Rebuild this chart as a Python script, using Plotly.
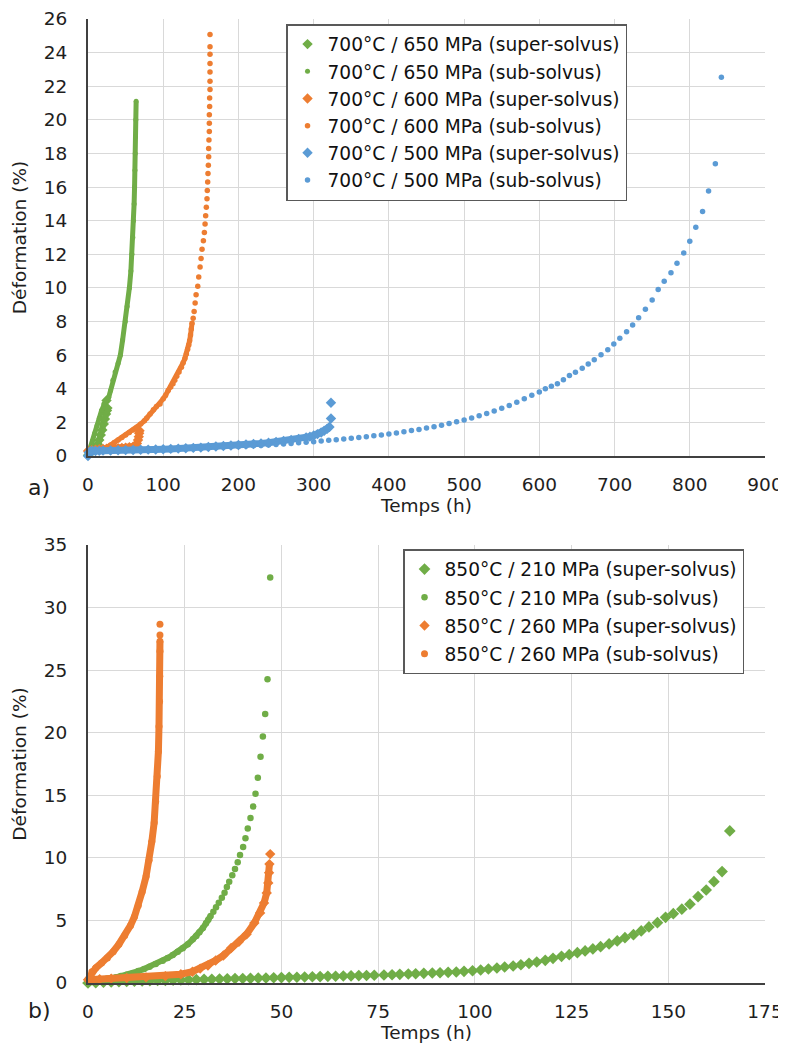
import plotly.graph_objects as go

# ---------------- DATA (time h, strain %) ----------------
# Panel a) 700 °C
s650_super = [(0,0.05),(3,0.2),(6,0.3),(9,0.4),(11,0.5),(13,0.7),(15,0.95),(17,1.25),(19,1.55),
              (21,1.9),(22.5,2.2),(24,2.5),(25.2,2.7),(25.8,2.85),(24.6,3.3)]
s650_sub = [(0,0.05),(3,0.45),(6,0.9),(9,1.35),(12,1.8),(15,2.25),(18,2.7),(21,3.1),(24,3.3),(27.6,3.5),
            (30,3.9),(33,4.5),(36,5.0),(40,5.5),(43,6.0),(46,6.9),(49.6,8.0),(52,8.9),(55,10.0),(57,11.0),
            (58.4,12.0),(59.6,13.0),(60.5,14.0),(61.3,15.0),(61.9,16.0),(62.4,17.0),(62.8,18.0),(63.2,19.0),
            (63.6,20.0),(64.0,21.1)]
s600_super = [(0,0.3),(5,0.35),(10,0.38),(15,0.4),(20,0.42),(25,0.44),(30,0.45),(35,0.46),(40,0.47),
              (45,0.48),(50,0.5),(55,0.52),(60,0.55),(63,0.6),(65,0.75),(66.5,0.95),(67.5,1.15),(68,1.35),(68.5,1.5)]
s600_sub = [(0,0.2),(5,0.3),(10,0.35),(15,0.4),(20,0.45),(25,0.52),(30,0.65),(35,0.8),(40,0.95),(45,1.1),
            (50,1.25),(55,1.4),(60,1.55),(65,1.7),(70,1.9),(75,2.1),(78,2.25),(82.5,2.5),(87,2.75),(91,2.95),
            (95.7,3.1),(100,3.4),(103,3.6),(106.6,3.9),(110,4.1),(113,4.3),(115.4,4.5),(118,4.75),(121,5.0),
            (124.2,5.28),(126.5,5.55),(128.8,5.8),(130.8,6.07),(132.5,6.35),(134,6.6),(135.1,6.86),(136.3,7.2),
            (137.3,7.55),(138.3,7.9),
            (139.8,8.2),(141.1,8.6),(142.4,9.1),(143.7,9.6),(145.9,10.1),(147.2,10.65),(149.0,11.25),
            (150.3,11.75),(151.6,12.3),(153.4,12.8),(154.7,13.3),(155.6,13.8),(156.4,14.3),(157.3,14.8),
            (158.2,15.3),(158.6,15.8),(159.1,16.3),(159.5,16.8),(160.0,17.3),(160.4,17.8),(160.4,18.3),
            (160.8,18.8),(161.3,19.3),(161.3,19.8),(161.3,20.3),(161.7,20.8),(161.7,21.3),(162.2,21.8),
            (162.2,22.3),(162.2,22.85),(162.2,23.35),(162.2,23.9),(162.2,24.35),(162.2,25.08)]
s500_super = [(0,0.0),(1,0.2),(3,0.28),(6,0.3),(10,0.3),(15,0.31),(20,0.32),(30,0.33),(40,0.34),(50,0.35),
              (60,0.36),(70,0.37),(80,0.38),(90,0.39),(100,0.4),(110,0.42),(120,0.44),(130,0.46),(140,0.48),
              (150,0.5),(160,0.53),(170,0.56),(180,0.59),(190,0.62),(200,0.65),(210,0.68),(220,0.71),
              (230,0.75),(240,0.79),(250,0.84),(260,0.89),(270,0.95),(280,1.02),(290,1.1),(295,1.15),
              (300,1.22),(305,1.3),(310,1.4),(314,1.5),(318,1.62),(321,1.72),(323,2.23),(323,3.17)]
s500_sub = [(0,0.1),(5,0.25),(12,0.3),(20,0.32),(30,0.33),(40,0.34),(50,0.35),(60,0.36),(70,0.37),(80,0.38),
            (90,0.39),(100,0.4),(110,0.41),(120,0.42),(130,0.43),(140,0.45),(150,0.47),(160,0.49),(170,0.51),
            (180,0.53),(190,0.55),(200,0.57),(210,0.59),(220,0.61),(230,0.63),(240,0.66),(250,0.69),(260,0.72),
            (270,0.75),(280,0.78),(290,0.81),(300,0.85),(310,0.89),(320,0.93),(330,0.97),(340,1.01),(350,1.05),
            (360,1.1),(370,1.15),(380,1.2),(390,1.25),(400,1.31),(410,1.37),(420,1.44),(430,1.51),(440,1.58),
            (450,1.66),(460,1.74),(470,1.83),(480,1.93),(490,2.03),(500,2.14),(510,2.26),(520,2.39),(530,2.53),
            (540,2.68),(550,2.84),(560,3.01),(570,3.2),(580,3.4),(590,3.62),(600,3.8),(608,4.0),(616,4.15),
            (624,4.3),(632,4.53),(640,4.79),(648,4.98),(657,5.22),(665,5.48),(673,5.73),(682,6.03),(691,6.32),
            (699,6.66),(707,7.01),(716,7.39),(724,7.8),(732,8.23),(741,8.73),(750,9.28),(758,9.91),(766,10.4),
            (775,10.9),(783,11.47),(792,12.08),(800,12.77),(808,13.61),(817,14.54),(825,15.76),(834,17.39),
            (842,22.54)]

# Panel b) 850 °C
s210_super = [(0,0.0),(2,0.03),(4,0.06),(6,0.08),(8,0.1),(10,0.12),(12,0.14),(14,0.16),(16,0.18),(18,0.2),
              (20,0.21),(22,0.23),(24,0.24),(26,0.26),(28,0.27),(30,0.29),(32,0.3),(34,0.32),(36,0.33),
              (38,0.35),(40,0.36),(42,0.37),(44,0.39),(46,0.4),(48,0.42),(50,0.43),(52,0.45),(54,0.46),
              (56,0.48),(58,0.5),(60,0.51),(62,0.53),(64,0.54),(66,0.56),(68,0.57),(70,0.59),(72,0.6),
              (74,0.62),(76.5,0.64),(78.6,0.66),(80.6,0.69),(82.8,0.72),(84.7,0.74),(86.8,0.77),(89.0,0.8),
              (91.0,0.82),(93.1,0.85),(95.2,0.88),(97.2,0.93),(99.4,0.98),(101.5,1.04),(103.5,1.12),
              (105.7,1.2),(107.7,1.28),(109.9,1.36),(111.9,1.46),(114.0,1.57),(116.0,1.68),(118.2,1.81),
              (120.2,1.97),(122.4,2.13),(124.4,2.26),(126.5,2.42),(128.5,2.56),(130.5,2.72),(132.5,2.9),
              (134.7,3.12),(136.8,3.36),(138.8,3.62),(141.0,3.86),(143.0,4.16),(145.0,4.48),(147.2,4.82),
              (149.3,5.25),(151.3,5.54),(153.5,5.9),(155.6,6.3),(157.7,6.9),(159.8,7.43),(161.8,8.1),
              (163.9,8.9),(165.9,12.15)]
s210_sub = [(0,0.0),(1,0.08),(2,0.15),(3,0.24),(4,0.3),(5,0.35),(6,0.4),(7.3,0.46),(8.5,0.55),(10,0.65),
            (11.6,0.78),(13,0.95),(14.5,1.12),(15.9,1.3),(17.5,1.52),(19.3,1.78),(20.6,2.0),(21.9,2.24),
            (23.2,2.5),(24.5,2.77),(25.8,3.1),(27.1,3.49),(28,3.75),(28.8,4.05),(29.7,4.4),(30.5,4.77),
            (31.1,5.05),(31.7,5.36),(32.4,5.7),(33.1,6.05),(33.8,6.42),(34.6,6.82),(35.3,7.22),(35.9,7.67),
            (36.5,8.1),(37.3,8.6),(38.0,9.11),(38.7,9.64),(39.3,10.23),(40.1,10.87),(40.7,11.56),
            (41.3,12.34),(42.0,13.19),(42.7,14.1),(43.3,15.13),(43.9,16.4),(44.6,18.07),(45.2,19.7),
            (45.8,21.5),(46.4,24.27),(47.1,32.4)]
s260_super = [(0,0.25),(3,0.3),(6,0.35),(10,0.4),(15,0.45),(20,0.55),(24,0.7),(27,0.9),(29,1.15),(31,1.4),
              (33,1.8),(35,2.2),(37,2.8),(39,3.3),(41,3.9),(43,4.8),(44.5,5.6),(45.5,6.4),(46.2,7.2),
              (46.6,8.0),(46.8,8.8),(46.9,9.5),(47.1,10.3)]
s260_sub = [(0,0.3),(1,0.9),(2,1.2),(3.5,1.6),(5,2.0),(6.5,2.5),(8,3.1),(9.5,3.8),(11,4.6),(12,5.3),
            (13,6.2),(14,7.3),(15,8.5),(15.8,9.8),(16.5,11.3),(17.1,12.8),(17.5,14.5),(17.9,16.5),
            (18.2,18.5),(18.35,20.5),(18.5,22.5),(18.55,24.5),(18.6,26.5),(18.6,27.3),(18.6,27.8),(18.6,28.67)]

x_ticks_a = [0, 100, 200, 300, 400, 500, 600, 700, 800, 900]
y_ticks_a = [0, 2, 4, 6, 8, 10, 12, 14, 16, 18, 20, 22, 24, 26]
x_ticks_b = [0, 25, 50, 75, 100, 125, 150, 175]
y_ticks_b = [0, 5, 10, 15, 20, 25, 30, 35]

GREEN, ORANGE, BLUE = "#70AD47", "#ED7D31", "#5B9BD5"
FONT = "DejaVu Sans, Liberation Sans, Arial, sans-serif"
TXT = "#1e1e1e"

fig = go.Figure()


def add(data, name, color, symbol, size, line_n, lw, xa, ya, legend):
    xs = [p[0] for p in data]
    ys = [p[1] for p in data]
    if line_n:
        fig.add_trace(go.Scatter(x=xs[:line_n], y=ys[:line_n], mode="lines",
                                 line=dict(color=color, width=lw), showlegend=False,
                                 hoverinfo="skip", xaxis=xa, yaxis=ya, cliponaxis=False))
    fig.add_trace(go.Scatter(x=xs, y=ys, mode="markers", name=name,
                             marker=dict(symbol=symbol, size=size, color=color, line=dict(width=0)),
                             xaxis=xa, yaxis=ya, legend=legend, legendgroup=name,
                             cliponaxis=False))


add(s650_super, "700°C / 650 MPa (super-solvus)", GREEN, "diamond", 8, 14, 6, "x", "y", "legend")
add(s650_sub, "700°C / 650 MPa (sub-solvus)", GREEN, "circle", 5, 30, 5, "x", "y", "legend")
add(s600_super, "700°C / 600 MPa (super-solvus)", ORANGE, "diamond", 8, 19, 6, "x", "y", "legend")
add(s600_sub, "700°C / 600 MPa (sub-solvus)", ORANGE, "circle", 5.5, 39, 5, "x", "y", "legend")
add(s500_super, "700°C / 500 MPa (super-solvus)", BLUE, "diamond", 8, 41, 7, "x", "y", "legend")
add(s500_sub, "700°C / 500 MPa (sub-solvus)", BLUE, "circle", 5.5, 0, 0, "x", "y", "legend")

add(s210_super, "850°C / 210 MPa (super-solvus)", GREEN, "diamond", 9, 0, 0, "x2", "y2", "legend2")
add(s210_sub, "850°C / 210 MPa (sub-solvus)", GREEN, "circle", 6.5, 28, 6, "x2", "y2", "legend2")
add(s260_super, "850°C / 260 MPa (super-solvus)", ORANGE, "diamond", 8, 22, 7, "x2", "y2", "legend2")
add(s260_sub, "850°C / 260 MPa (sub-solvus)", ORANGE, "circle", 7, 24, 7, "x2", "y2", "legend2")

axis_common = dict(showgrid=True, gridcolor="#D9D9D9", gridwidth=1, zeroline=False,
                   tickfont=dict(family=FONT, size=18.5, color=TXT), ticks="",
                   showline=True, linecolor="#404040", linewidth=2,
                   fixedrange=True, automargin=False, ticklabeloverflow="allow")

fig.update_layout(
    width=778, height=1043,
    margin=dict(l=80, r=21, t=11, b=68),
    paper_bgcolor="white", plot_bgcolor="white",
    font=dict(family=FONT, size=18.5, color=TXT),
    xaxis=dict(domain=[0, 1], anchor="y", range=[0, 900], tickvals=x_ticks_a,
               title=dict(text="Temps (h)", standoff=2, font=dict(size=18.5)),
               ticklabelstandoff=11, **axis_common),
    yaxis=dict(domain=[0.5467, 1], anchor="x", range=[0, 26], tickvals=y_ticks_a,
               title=dict(text="Déformation (%)", standoff=12, font=dict(size=18.5)),
               ticklabelstandoff=15, **axis_common),
    xaxis2=dict(domain=[0, 1], anchor="y2", range=[0, 175], tickvals=x_ticks_b,
                title=dict(text="Temps (h)", standoff=2, font=dict(size=18.5)),
                ticklabelstandoff=11, **axis_common),
    yaxis2=dict(domain=[0, 0.4544], anchor="x2", range=[0, 35], tickvals=y_ticks_b,
                title=dict(text="Déformation (%)", standoff=12, font=dict(size=18.5)),
                ticklabelstandoff=15, **axis_common),
    legend=dict(x=0.2925, y=0.9948, xanchor="left", yanchor="top", bgcolor="white",
                bordercolor="#595959", borderwidth=1.5, font=dict(size=18.6, color="#111"),
                tracegroupgap=0),
    legend2=dict(x=0.4653, y=0.4502, xanchor="left", yanchor="top", bgcolor="white",
                 bordercolor="#595959", borderwidth=1.5, font=dict(size=18.6, color="#111"),
                 tracegroupgap=1),
    showlegend=True,
    annotations=[
        dict(text="a)", xref="paper", yref="paper", x=-0.072, y=0.514, showarrow=False,
             font=dict(size=22, color=TXT), xanchor="center", yanchor="middle"),
        dict(text="b)", xref="paper", yref="paper", x=-0.072, y=-0.029, showarrow=False,
             font=dict(size=22, color=TXT), xanchor="center", yanchor="middle"),
    ],
)

fig.write_html("out.html")
